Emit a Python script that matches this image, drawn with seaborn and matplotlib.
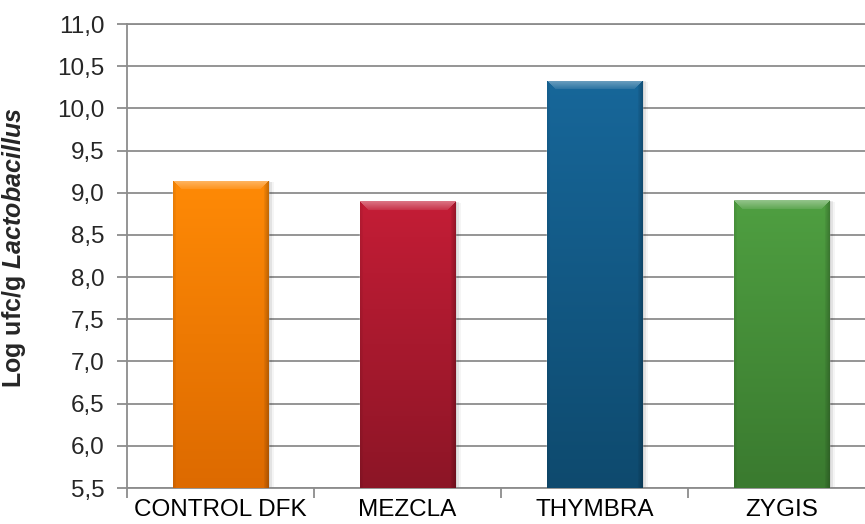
import numpy as np
import pandas as pd
import matplotlib
matplotlib.use('Agg')
import matplotlib.pyplot as plt
import matplotlib.colors as mcolors
from matplotlib.patches import Rectangle
import seaborn as sns

# Data
CATEGORIES = ['CONTROL DFK', 'MEZCLA', 'THYMBRA', 'ZYGIS']
VALUES = [9.14, 8.90, 10.33, 8.91]
Y_TICKS = [5.5, 6.0, 6.5, 7.0, 7.5, 8.0, 8.5, 9.0, 9.5, 10.0, 10.5, 11.0]

# Colours (top of bar, bottom of bar)
TOP_COLORS = ['#FF8A06', '#C41D36', '#17679A', '#4F9F41']
BOTTOM_COLORS = ['#DD6A00', '#8C1526', '#0E4A6E', '#3A7A2F']

GRID_COLOR = '#8C8C8C'
FONT = 'Liberation Sans'
TICK_FONTSIZE = 17.5
LABEL_FONTSIZE = 18

sns.set_theme(style='white')
plt.rcParams['font.family'] = [FONT, 'DejaVu Sans']
plt.rcParams['mathtext.fontset'] = 'custom'
plt.rcParams['mathtext.bfit'] = FONT + ':bold:italic'
plt.rcParams['mathtext.bf'] = FONT + ':bold'
plt.rcParams['mathtext.it'] = FONT + ':italic'
plt.rcParams['mathtext.rm'] = FONT

fig = plt.figure(figsize=(8.65, 5.24), dpi=100)
# plot area runs a little past the right edge, as in the original
ax = fig.add_axes([127 / 865, 1 - 488 / 524, 748 / 865, 464 / 524])

df = pd.DataFrame({'cat': CATEGORIES, 'val': VALUES})
sns.barplot(data=df, x='cat', y='val', hue='cat', palette=TOP_COLORS,
            width=0.51, legend=False, ax=ax, zorder=2, saturation=1)

ylo, yhi = 5.5, 11.0
ax.set_ylim(ylo, yhi)
ax.set_xlim(-0.5, 3.5)

px_per_y = 464 / (yhi - ylo)
px_per_x = 748 / 4


def bar_image(top, bottom, w_px, h_px, bevel=9):
    top = np.array(mcolors.to_rgb(top))
    bottom = np.array(mcolors.to_rgb(bottom))
    ny, nx = int(max(h_px, 2)), int(max(w_px, 2))
    yy, xx = np.mgrid[0:ny, 0:nx].astype(float)
    t = (yy / (ny - 1))[..., None]
    img = top * (1 - t) + bottom * t
    dt = yy
    dl = xx
    dr = nx - 1 - xx
    # top bevel with chamfered corners
    top_zone = (dt < bevel) & (dt <= dl) & (dt <= dr)
    light = (1 - dt / bevel) * 0.30 + 0.08
    img = np.where(top_zone[..., None],
                   img + (1 - img) * light[..., None], img)
    # side edges
    right_zone = (dr < 5) & ~top_zone
    img = np.where(right_zone[..., None],
                   img * (0.78 + 0.04 * dr)[..., None], img)
    left_zone = (dl < 3) & ~top_zone
    img = np.where(left_zone[..., None],
                   img * (0.92 + 0.02 * dl)[..., None], img)
    return np.clip(img, 0, 1)


for i, patch in enumerate(list(ax.patches)):
    x0 = patch.get_x()
    w = patch.get_width()
    top = patch.get_height()
    # soft shadow to the right
    for k, a in enumerate([0.10, 0.07, 0.04]):
        off = (k + 1) * 2 / px_per_x
        ax.add_patch(Rectangle((x0 + off, ylo), w, top - ylo - off * 0.5,
                               facecolor='black', alpha=a, lw=0, zorder=1.5))
    img = bar_image(TOP_COLORS[i], BOTTOM_COLORS[i], w * px_per_x,
                    (top - ylo) * px_per_y)
    im = ax.imshow(img, extent=(x0, x0 + w, ylo, top), aspect='auto',
                   zorder=3, interpolation='bilinear')
    im.set_clip_path(patch)

ax.set_ylim(ylo, yhi)
ax.set_xlim(-0.5, 3.5)

ax.set_yticks(Y_TICKS)
ax.set_yticklabels([f'{v:.1f}'.replace('.', ',') for v in Y_TICKS])
ax.yaxis.grid(True, color=GRID_COLOR, lw=1.3, zorder=0)
ax.set_axisbelow(True)

ax.set_xticks(range(len(CATEGORIES)))
ax.set_xticklabels(CATEGORIES)
ax.set_xticks([-0.5, 0.5, 1.5, 2.5, 3.5], minor=True)
ax.tick_params(axis='x', which='major', length=0, pad=8,
               labelsize=TICK_FONTSIZE, colors='black')
ax.tick_params(axis='x', which='minor', length=7, width=1.3,
               color=GRID_COLOR, direction='out', bottom=True)
ax.tick_params(axis='y', which='major', length=7, width=1.3,
               color=GRID_COLOR, pad=9, labelsize=TICK_FONTSIZE, left=True,
               direction='out')

for side in ['left', 'bottom', 'top']:
    ax.spines[side].set_color(GRID_COLOR)
    ax.spines[side].set_linewidth(1.3)
ax.spines['right'].set_visible(False)

ax.set_xlabel('')
ax.set_ylabel(r'Log ufc/g $\mathbfit{Lactobacillus}$',
              fontsize=LABEL_FONTSIZE, fontweight='bold')
ax.yaxis.set_label_coords((28 - 127) / 748, (488 - 248) / 464)

fig.savefig('out.png', dpi=100)
